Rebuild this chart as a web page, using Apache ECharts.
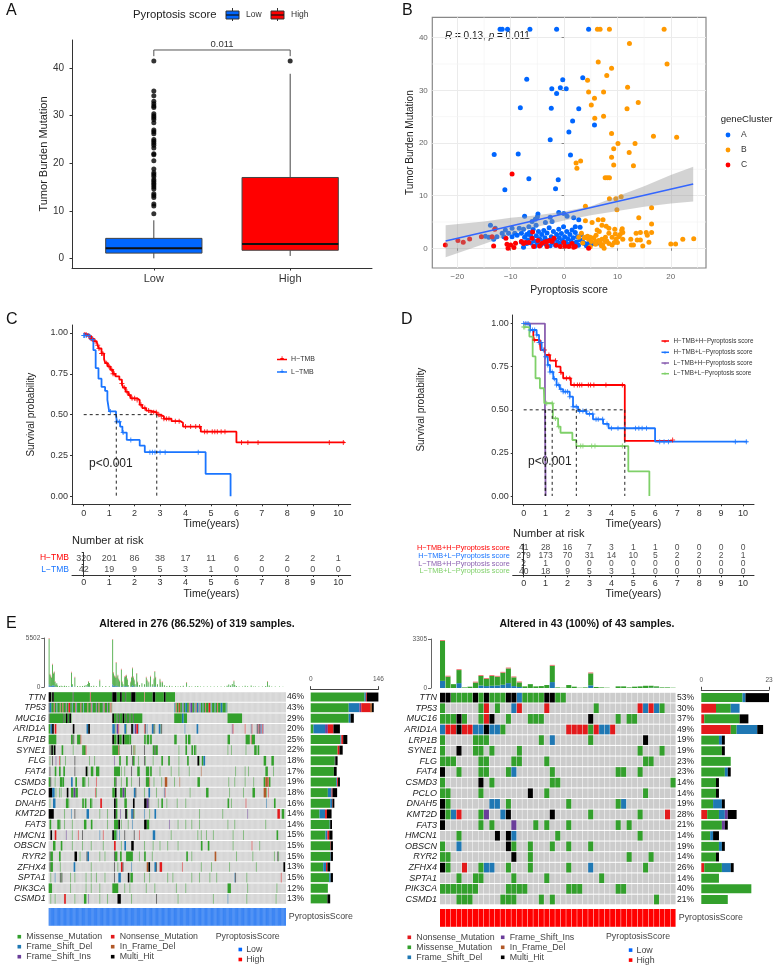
<!DOCTYPE html>
<html>
<head>
<meta charset="utf-8">
<title>Pyroptosis score and TMB</title>
<script src="https://cdn.jsdelivr.net/npm/echarts@6/dist/echarts.min.js"></script>
<style>
  html, body { margin: 0; padding: 0; background: #fff; }
  #chart { width: 776px; height: 969px; }
</style>
</head>
<body>
<div id="chart"></div>
<script>
// panel A
const boxCats = ['Low', 'High'];
const boxMin = [0, 0.5];
const boxQ1 = [1.1, 1.7];
const boxMed = [2.1, 3];
const boxQ3 = [4.2, 17];
const boxMax = [8, 38.8];
const lowOutliers = [41.5, 35.2, 34.2, 33, 32.5, 32, 31.7, 30.4, 30, 29.6, 29.2, 28.5, 27, 26.6, 26.2, 25, 24.6, 24.2, 23.8, 23.2, 22, 21.8, 20.5, 18.8, 18, 17.6, 17.2, 16.6, 16.2, 15.8, 15.4, 15, 14.6, 13.6, 13.2, 12.8, 11.4, 11, 9.4];
const highOutliers = [41.5];

// panel B
const clusterA = [[-12, 41.6], [-11.6, 41.6], [-10.6, 41.6], [-6.4, 41.6], [-1.4, 41.6], [4.6, 41.6], [-7, 32.1], [-0.25, 32], [3.5, 32.4], [-2.3, 30.3], [-0.7, 30.5], [0.4, 30.3], [-1.4, 29.4], [-8.2, 26.7], [-2.4, 26.6], [2.75, 26.5], [1.6, 24.2], [5.7, 23.4], [0.9, 22.1], [-2.6, 20.6], [-13.1, 17.8], [-8.6, 17.9], [1.2, 17.7], [-6.6, 13.2], [-1.1, 13], [-11.1, 11.1], [-1.6, 11.3],
  [-7.4, 6.1], [-4.9, 6.5], [-5, 6], [-2.6, 5.9], [-1, 6.8], [-0.06, 6.6], [0.56, 6.1], [1.8, 5.8], [2.75, 5.4], [3, 4], [2.1, 4.1], [-2.25, 5.1], [-3.5, 4.9], [-5.4, 5.5], [-6, 5.1], [-5.25, 4.4], [-6.6, 4.1], [-7.6, 3.6], [-8.4, 3.8], [-13.8, 4.4], [-12.9, 3.8], [-14.75, 2.3], [-14.1, 2.1], [-12.6, 2.2], [-13.2, 1.7], [-11.6, 2.85], [-11, 3.5], [-9.75, 3.8], [-10.4, 2.85], [-9.25, 2.85], [-11.3, 2.2], [-9.75, 2.2], [-8.8, 2.5], [-8, 2.85], [-7.4, 2.1], [-6.3, 2.5],
  [-8, 1.2], [-7.6, 0.2], [-7, 0.9], [-7, 2.6], [-6.8, 1.6], [-6.5, 3], [-6.2, 1], [-6, 2], [-5.8, 3.6], [-5.6, 1.4], [-5.5, 0.4], [-5.2, 2.4], [-5, 1], [-4.8, 3.2], [-4.6, 1.8], [-4.4, 0.6], [-4.2, 2.6], [-4, 1.3], [-3.8, 3.4], [-3.6, 2], [-3.4, 0.8], [-3.2, 2.9], [-3, 1.5], [-2.8, 3.9], [-2.6, 0.5], [-2.4, 2.2], [-2.2, 1.1], [-2, 3.2], [-1.8, 1.7], [-1.6, 0.6], [-1.4, 2.6], [-1.2, 1.2], [-1, 3.6], [-0.9, 2], [-0.7, 0.8], [-0.5, 2.8], [-0.3, 1.5], [-0.1, 4.1], [0.1, 2.2], [0.3, 1.1], [0.5, 3.2], [0.7, 1.8], [0.9, 0.7], [1.1, 2.6], [1.3, 1.4], [1.5, 3.5], [1.7, 2], [1.9, 0.9], [2.1, 3], [2.3, 1.2], [2.5, 2.2], [2.7, 0.6], [3, 1.6], [3.2, 2.6], [3.5, 1.2], [3.8, 0.9], [4.2, 0.5], [4.5, 0.9], [5.2, 0.8], [6.4, 1]];
const clusterB = [[6.25, 41.6], [6.75, 41.6], [8.5, 41.6], [18.75, 41.6], [12.25, 38.9], [6.4, 35.4], [19.3, 35], [8.9, 34.2], [8, 32.8], [4.4, 31.9], [11.9, 30.6], [4.6, 29.7], [7.4, 29.7], [5.7, 28.5], [13.9, 27.7], [5.1, 27.2], [11.8, 26.5], [7.4, 25.1], [5.75, 24.7], [8.9, 21.8], [16.75, 21.3], [21.1, 21.1], [10.1, 19.9], [13.3, 19.9], [9.3, 18.9], [12.2, 18.2], [8.9, 17.3], [3.1, 16.6], [2.25, 16.2], [9.3, 15.8], [13, 15.7], [2.4, 15.2], [7.7, 13.4], [8.1, 13.4], [8.5, 13.4], [8.5, 9.4], [9.7, 9.4], [10.7, 9.8], [4, 8], [16.4, 7.7], [9.9, 7.3],
  [4, 5.25], [5.25, 4.9], [6.4, 5.4], [7.3, 5.4], [14, 5.8], [16.4, 4.6], [7.9, 4.2], [8.4, 3.8], [7.1, 4.4], [6.2, 3.5], [6.6, 3.2], [9.5, 3.6], [10.9, 3.7], [11, 3], [9.6, 2.7], [8.4, 2.85], [9, 2.1], [10.25, 2.2], [7.75, 2.1], [7.1, 1.7], [7.75, 1.3], [6.5, 1.5], [5.9, 1.3], [5.1, 1.3], [4.6, 1.7], [4, 2.1], [3.25, 2.85], [2.75, 2.1], [5.9, 0.76], [4.9, 0.3], [7.5, 0], [7.25, 0.63], [9, 0.63], [9.75, 1.7], [11, 1.7], [13.5, 2.85], [14.3, 3], [15.6, 2.5], [15.4, 3], [16.4, 3], [12.5, 1.7], [12.6, 0.63], [13, 0.63], [14.3, 1.6], [14.75, 0.44], [15.9, 1.14], [20, 0.8], [20.9, 0.8], [22.25, 1.7], [24.3, 1.8], [13.7, 1.6],
  [4.4, 2.3], [4.9, 2.1], [5.6, 2], [6, 2.5], [6.8, 1], [7, 0.5], [8, 1.4], [8.4, 0.9], [9.4, 1.1], [10, 1.1], [10.5, 2.6], [10.8, 3.4], [3.8, 2], [3.5, 1]];
const clusterC = [[-9.75, 14.1], [-22.25, 0.63], [-19.9, 1.46], [-18.9, 1.14], [-17.7, 1.77], [-15.5, 2.2], [-13.5, 2.2], [-13.2, 0.44], [-10.9, 1.9], [-10.7, 0.76], [-10, 0.63], [-10.5, 0], [-9.4, 0.13], [-9.1, 0.95], [-8, 1.27], [-7.25, 1.08], [-5.7, 0.32], [-6.6, 1.08], [-6, 1.9], [-4.9, 1.46], [-4.1, 0.95], [-3.2, 0.32], [-1.9, 1.9], [-3.2, 1.27], [-2.25, 1.27], [-0.7, 0.32], [-0.06, 1.08], [0.9, 0.32], [2.1, 0.32], [-7.6, 0.9], [-4.6, 0.45], [-3.6, 1.2], [-2.7, 1.5], [-1.5, 0.6], [0.2, 0.4], [1.5, 0.9], [1.8, 0.2], [4.6, 0], [-5.9, 3.1], [-13, 3.6]];
const fitX = [-22.2, 24.2];
const fitY = [1.4, 12.2];
const bandX = [-22.2, -15, -10, -5, 0, 5, 10, 15, 20, 24.2];
const bandUpper = [4.4, 5.1, 5.8, 6.3, 7, 8, 9.9, 11.8, 13.9, 15.5];
const bandLower = [-1.7, 0.8, 2.6, 4.1, 5.3, 6.3, 7.1, 7.9, 8.5, 8.9];

// panel C
const riskTicks = [0, 1, 2, 3, 4, 5, 6, 7, 8, 9, 10];
const hTmbTime = [0, 0.05, 0.1, 0.2, 0.3, 0.4, 0.5, 0.55, 0.6, 0.7, 0.8, 0.85, 0.95, 1.05, 1.15, 1.25, 1.4, 1.5, 1.55, 1.65, 1.75, 1.85, 2.1, 2.2, 2.3, 2.45, 2.6, 2.87, 3, 3.15, 3.45, 3.8, 3.9, 4.6, 6, 10.26];
const hTmbSurv = [1, 0.995, 0.99, 0.98, 0.965, 0.95, 0.94, 0.925, 0.905, 0.875, 0.84, 0.815, 0.795, 0.775, 0.75, 0.735, 0.715, 0.69, 0.665, 0.64, 0.62, 0.6, 0.59, 0.56, 0.54, 0.525, 0.514, 0.5, 0.49, 0.475, 0.46, 0.45, 0.427, 0.396, 0.33, 0.33];
const hTmbCensor = [0.1, 0.2, 0.3, 0.35, 0.45, 0.55, 0.6, 0.7, 0.75, 0.9, 1, 1.1, 1.15, 1.2, 1.5, 1.6, 1.7, 1.8, 1.9, 2, 2.1, 2.25, 2.4, 2.55, 2.65, 2.75, 2.85, 2.95, 3.05, 3.15, 3.25, 3.35, 3.6, 3.75, 4, 4.2, 4.4, 4.55, 4.75, 4.85, 5.05, 5.15, 5.25, 5.4, 5.55, 6.2, 6.45, 6.85, 9.65, 10.2];
const lTmbTime = [0, 0.25, 0.38, 0.47, 0.58, 0.7, 0.84, 0.93, 1, 1.27, 1.3, 1.43, 1.52, 1.69, 2.2, 2.4, 4.79, 5.77, 5.77];
const lTmbSurv = [0.985, 0.96, 0.895, 0.785, 0.72, 0.67, 0.645, 0.59, 0.52, 0.5, 0.457, 0.427, 0.39, 0.345, 0.31, 0.27, 0.137, 0.137, 0];
const lTmbCensor = [0, 0.03, 0.1, 0.2, 0.35, 1.05, 1.3, 1.4, 1.55, 1.85, 2.6, 2.7, 2.8, 3, 3.2, 4.5];
const mediansC = [1.28, 2.87];
const riskRowsC = ['H\u2212TMB', 'L\u2212TMB'];
const riskHTmb = [320, 201, 86, 38, 17, 11, 6, 2, 2, 2, 1];
const riskLTmb = [42, 19, 9, 5, 3, 1, 0, 0, 0, 0, 0];

// panel D
const hhTime = [0, 0.29, 0.44, 0.74, 0.77, 0.97, 1.2, 1.47, 1.68, 1.8, 2.15, 4.61, 6.79];
const hhSurv = [1, 0.963, 0.905, 0.89, 0.847, 0.818, 0.785, 0.75, 0.716, 0.683, 0.644, 0.32, 0.325];
const hhCensor = [0.5, 0.75, 0.95, 1.15, 1.45, 1.7, 1.95, 2.1, 2.3, 2.45, 2.55, 2.65, 2.95, 3.05, 3.2, 3.75, 4.5, 6.79];
const hlTime = [0, 0.29, 0.59, 0.7, 0.82, 0.97, 1.1, 1.2, 1.35, 1.5, 1.65, 1.8, 2.1, 2.25, 2.48, 2.86, 3.16, 3.62, 3.87, 5.99, 10.2];
const hlSurv = [1, 0.963, 0.934, 0.89, 0.847, 0.808, 0.76, 0.72, 0.68, 0.644, 0.62, 0.605, 0.576, 0.518, 0.493, 0.476, 0.445, 0.418, 0.393, 0.315, 0.315];
const hlCensor = [0, 0.1, 0.2, 0.3, 0.4, 0.5, 0.6, 0.7, 0.8, 0.9, 1, 1.1, 1.2, 1.3, 1.4, 1.5, 1.6, 1.7, 1.8, 1.9, 2, 2.1, 2.25, 2.4, 2.55, 2.7, 2.85, 3, 3.15, 3.3, 3.4, 3.6, 3.8, 4, 4.3, 4.6, 5.1, 5.25, 5.4, 5.6, 6.2, 6.4, 6.6, 9.65, 10.15];
const lhTime = [0, 0.97, 0.97, 1, 1];
const lhSurv = [1, 1, 0.5, 0.5, 0];
const llTime = [0, 0.26, 0.41, 0.54, 0.74, 0.92, 0.94, 1.33, 1.57, 1.68, 2.22, 2.4, 4.77, 5.73, 5.73];
const llSurv = [0.98, 0.925, 0.81, 0.683, 0.625, 0.62, 0.538, 0.45, 0.402, 0.367, 0.325, 0.29, 0.143, 0.143, 0];
const llCensor = [0, 0.05, 1.05, 1.3, 1.45, 1.6, 2.6, 2.7, 3.1, 3.25, 4.5];
const mediansD = [0.98, 1, 1.3, 2.4, 4.61];
const riskRowsD = ['H\u2212TMB+H\u2212Pyroptosis score', 'H\u2212TMB+L\u2212Pyroptosis score', 'L\u2212TMB+H\u2212Pyroptosis score', 'L\u2212TMB+L\u2212Pyroptosis score'];
const riskHH = [41, 28, 16, 7, 3, 1, 1, 0, 0, 0, 0];
const riskHL = [279, 173, 70, 31, 14, 10, 5, 2, 2, 2, 1];
const riskLH = [2, 1, 0, 0, 0, 0, 0, 0, 0, 0, 0];
const riskLL = [40, 18, 9, 5, 3, 1, 0, 0, 0, 0, 0];

// panel E, both oncoplots share the gene order
const genes = ['TTN', 'TP53', 'MUC16', 'ARID1A', 'LRP1B', 'SYNE1', 'FLG', 'FAT4', 'CSMD3', 'PCLO', 'DNAH5', 'KMT2D', 'FAT3', 'HMCN1', 'OBSCN', 'RYR2', 'ZFHX4', 'SPTA1', 'PIK3CA', 'CSMD1'];
const pctLeft = ['46%', '43%', '29%', '20%', '25%', '22%', '18%', '17%', '19%', '18%', '16%', '14%', '14%', '15%', '15%', '15%', '13%', '15%', '12%', '13%'];
const pctRight = ['53%', '30%', '37%', '49%', '19%', '19%', '23%', '23%', '14%', '14%', '19%', '28%', '21%', '14%', '19%', '14%', '26%', '14%', '40%', '21%'];

// bar counts per gene
const missLeft = [116, 82, 82, 6, 64, 58, 52, 50, 55, 37, 42, 19, 41, 32, 42, 42, 27, 40, 37, 36];
const fsDelLeft = [3, 23, 4, 25, 2, 0, 0, 0, 2, 8, 4, 12, 1, 4, 0, 1, 6, 3, 0, 0];
const fsInsLeft = [0, 4, 0, 6, 0, 0, 1, 0, 0, 0, 0, 0, 0, 0, 0, 0, 0, 0, 0, 0];
const nonsenseLeft = [2, 19, 0, 12, 4, 4, 0, 0, 2, 2, 1, 4, 0, 4, 1, 0, 3, 0, 0, 0];
const inFrameLeft = [0, 4, 0, 0, 0, 0, 0, 0, 0, 0, 0, 0, 0, 0, 0, 0, 0, 0, 0, 0];
const multiLeft = [25, 4, 7, 14, 9, 7, 5, 6, 4, 10, 4, 10, 4, 7, 5, 5, 6, 5, 0, 6];

const nonsenseRight = [0, 5, 1, 10, 0, 0, 0, 0, 0, 0, 0, 2, 0, 0, 0, 0, 1, 0, 0, 0];
const missRight = [14, 5, 12, 2, 6, 7, 10, 8, 5, 5, 4, 4, 7, 3, 6, 5, 6, 6, 17, 9];
const fsDelRight = [1, 3, 0, 7, 1, 0, 0, 1, 0, 0, 3, 2, 0, 1, 1, 0, 3, 0, 0, 0];
const fsInsRight = [0, 0, 0, 0, 0, 0, 0, 0, 0, 0, 0, 1, 1, 0, 0, 0, 0, 0, 0, 0];
const multiRight = [8, 0, 3, 2, 1, 1, 0, 1, 1, 1, 1, 3, 1, 2, 1, 1, 1, 0, 0, 0];

// mutation burden per sample: column, missense, frame shift
const burdenLeft = [[0, 5100, 300], [1, 1300, 100], [2, 1100, 120], [3, 900, 100], [4, 2300, 200], [5, 1300, 200], [6, 1500, 150], [7, 500, 50], [8, 250, 30], [9, 400, 20], [10, 150, 10], [12, 90, 10], [14, 120, 10], [16, 80, 10], [18, 130, 10], [20, 90, 10], [23, 70, 10], [26, 1500, 100], [27, 300, 20], [30, 1000, 50], [33, 110, 10], [36, 100, 10], [39, 90, 10], [41, 140, 10], [43, 200, 20], [45, 300, 50], [46, 520, 60], [47, 400, 40], [49, 100, 10], [52, 120, 10], [55, 70, 10], [59, 700, 40], [62, 70, 10], [66, 100, 10], [70, 80, 10], [74, 5000, 300], [75, 1400, 150], [76, 1100, 100], [77, 1000, 80], [78, 2500, 200], [79, 1000, 80], [80, 1200, 80], [81, 800, 60], [82, 600, 40], [84, 1800, 150], [85, 500, 30], [86, 300, 20], [88, 1000, 100], [89, 1100, 80], [90, 1200, 80], [91, 800, 50], [92, 200, 20], [95, 500, 30], [96, 1000, 60], [97, 1900, 200], [98, 1000, 80], [99, 700, 50], [100, 300, 20], [102, 1400, 80], [103, 500, 30], [105, 200, 20], [108, 400, 20], [111, 300, 20], [113, 1000, 50], [114, 700, 40], [116, 500, 30], [118, 1100, 60], [120, 300, 20], [122, 800, 50], [123, 1600, 100], [124, 1000, 60], [126, 300, 20], [129, 800, 40], [130, 500, 30], [132, 500, 30], [134, 200, 10], [137, 100, 10], [140, 120, 10], [143, 80, 10], [147, 80, 10], [150, 60, 10], [153, 70, 10], [156, 120, 10], [160, 450, 20], [163, 80, 10], [166, 60, 10], [170, 70, 10], [173, 90, 10], [176, 50, 10], [180, 60, 10], [184, 40, 10], [188, 60, 10], [192, 50, 10], [196, 40, 10], [200, 40, 10], [204, 60, 10], [207, 120, 10], [209, 250, 20], [211, 150, 10], [213, 300, 30], [215, 600, 40], [216, 200, 20], [218, 100, 10], [221, 50, 10], [225, 40, 10], [228, 120, 10], [231, 70, 10], [235, 150, 10], [238, 60, 10], [240, 50, 10], [244, 60, 10], [248, 50, 10], [252, 100, 10], [254, 550, 30], [256, 150, 10], [259, 60, 10], [263, 50, 10], [268, 40, 10], [272, 30, 10]];
const burdenRight = [[0, 2700, 480], [1, 770, 0], [2, 260, 0], [3, 880, 330], [4, 40, 0], [5, 90, 0], [6, 370, 0], [7, 640, 170], [8, 480, 130], [9, 660, 150], [10, 590, 170], [11, 810, 220], [12, 990, 330], [13, 590, 130], [14, 310, 70], [15, 110, 0], [16, 260, 0], [17, 110, 0], [18, 130, 0], [19, 200, 0], [20, 1100, 400], [21, 40, 0], [22, 20, 0], [23, 200, 0], [24, 90, 0], [25, 20, 0], [26, 40, 0], [27, 810, 180], [28, 70, 0], [29, 40, 0], [30, 20, 0], [32, 110, 0], [33, 110, 0], [34, 40, 0], [35, 90, 0], [36, 110, 0], [37, 150, 0], [38, 130, 20], [39, 90, 20], [40, 40, 0], [41, 40, 0], [42, 20, 0]];

// altered samples, tokens are <column><type><run length>
const oncoLeft = [
  '0K3 3G1 4K2 6G22 28K1 29G19 48R1 49G25 74K5 79G4 83K2 85G4 89K1 90G6 96K5 101G10 111N1 112G9 121K3 124G10 134K2 136G11',
  '0K1 1B2 3G3 6R1 7G2 9B1 10G3 13N1 14G2 16R1 17G3 20P1 21G2 23R2 25G2 27B1 28G3 31R1 32B1 33G4 37R1 38G2 40B1 41G4 45N1 46G3 49R1 50B1 51G4 55P1 56G2 58R1 59G4 63B1 64R1 65G3 68P1 69G2 71N1 72R1 73G1 146B1 147G1 148R1 149G2 151N2 153G2 155B1 156P1 157G2 159B2 161G2 163R1 164B1 165P2 167G2 169B1 170G1 171R1 172B2 174G1 175P1 176B1 177G2 179B1 180G2 182R1 183G3 186R2 188G1 189B1 190G3 193B1 194G2 196R1 197G3 200B2 202G4 206B1 207G1',
  '0K1 1G16 17K1 18G2 20K2 22G2 24K2 26G1 74K2 76G3 79K1 80G2 82K1 83G3 86K2 88G2 90K1 91G3 94K1 95G3 98K1 99G10 146G9 155B2 157G4 208G17',
  '0G2 2B2 4K2 7R2 28K2 44B2 46K2 74B3 77G1 79P2 81R1 88B2 90G1 96K2 98B1 100P2 102R2 104B1 111R1 112K1 114B1 120B2 122K1 123G1 128B2 130G1 131K1 158B1 172B2 213P1 214R1 228R1 235B1 236R1 242K1 243P1 244R1 245K1 246P1 247B1 248R1 249P1',
  '0G9 26G2 28K1 29G1 33G4 37R1 74K2 76G3 80K2 82G3 86K2 88G6 94G2 111G2 114G3 118G2 146G3 159G2 162G3 208G3 229G5 235R1 236G4',
  '1K1 2G1 3K2 5G1 6K2 15G2 28G1 39G2 41G2 43R1 74G7 81R1 82G1 96K1 98G1 99N1 100G1 111K1 121G2 123K1 124G3 151G1 159G2 166G2 169G2 171G1 208G1 212G1 229G1 239G3 243G2',
  '1G1 4K1 8P1 12R1 13G1 19G1 30K1 47G1 53G1 76P1 82G2 90G2 97K1 98G2 104G1 111K1 112G1 121G1 131G2 139G2 151G1 161G2 173K2 175G1 178G2 180B2 250G3 259G3',
  '1K1 7G2 12G2 17G2 30K1 43K2 45G1 49G3 55G4 76G7 84G1 88G1 96K1 103G3 113G4 118G2 129G1 142G1 151G1 163G1 177N1 217G1 228G1 232G1 252G3 261G1',
  '0G2 2K1 7G1 13G3 16G2 26B2 31G2 39G3 42G1 46G1 55R1 76G2 78K1 84G1 90G2 96G1 105K1 113G4 117N1 122G1 131G1 135N3 146G1 152N1 173G3 209G1 216G1 228G1 238G1 250G2 252N3 255R1 256G2',
  '0K4 4B3 8G1 12G1 14G1 21K2 26G3 29P2 31G3 54R1 55G1 74G3 77K2 83G3 86P2 88G2 99B2 101K1 111G1 116B2 125G1 134B1 135R1 164G1 183G3 210G1 226G1 237G3 250N3 253G1 255R1',
  '1G1 5B3 20G3 23G1 39G2 42G2 48G2 50G1 60R2 76K2 78G2 88G3 98K2 111K3 114P2 116K1 127G1 131G2 137G1 149G1 159G1 208G2 212G1 229R1 253B1 262G2',
  '0K6 18G1 26B1 30K1 44B3 59G1 68G1 76K2 78G2 83P1 89K2 91G1 96B2 98K1 99G1 111B1 117G1 123B2 175G1 202G1 231P1 266R3 271G3',
  '1G2 10G3 13G1 18G1 27G1 41G3 49G2 68G1 76G5 81K2 84G1 92G1 97B1 111K3 114G3 140P1 150G1 159G1 166G1 175G1 208G1 216G1 252G1',
  '2K2 7R2 20P1 27G1 34R1 39K1 59B1 63R1 74K2 76G3 79B1 82B1 88K1 99K1 105R1 121B3 142G1 173G1 177G1 183G1 191G1 214G1 226G1 265G2',
  '5G3 14G2 27G1 39G1 49G1 63G1 76R2 84G1 88B2 96K3 111G1 121G1 129G1 138G1 150G1 177G2 185G2 214G1 236R1 245G1',
  '1K1 2G3 12G2 30K3 36G1 44K1 45B2 59G1 65G1 76K1 77G3 83G2 90G8 105G1 111G2 120G1 160G2 166G1 193N2 218G1 237G1 262G1 266K1 267G1',
  '1K1 2G3 13G1 29B2 49G1 76K1 80G1 84R2 86K1 96B1 114N2 116K2 123B2 125K1 129R3 155R1 177G1 189G1 210G1 241G1 273K2',
  '2G1 7B1 13K1 14G1 15K1 25G1 30G1 43G1 49G1 55G1 65G1 76K1 81B3 92K2 95G3 111G1 117G1 138G1 144G1 166G1 175G1 187G1 195G1 216B1 217K1 230G1 270R1',
  '0G4 25G1 43G1 49G1 59G1 74G7 88G1 94G1 113G1 123G1 148G1 159G1 208G4 231G1 265G1',
  '2G1 7G1 18R2 30G1 41G3 46P1 59G1 68G1 80K4 96G1 125K1 150G1 191G1 208B1 230G1 264G1'
];
const oncoRight = [
  'KKGGGGKGKGGGKKBGGGGKKGG....................',
  'G......GR.G..BR....R........G.......RBRBG..',
  'GGGKG..GRK..G...GGG........K....G.GG.......',
  'BRRKRRBBKBBG...........RRRRGRBBR...........',
  'G.....GGG.........G.B......G.........K.....',
  'G..K..GG.G....G.....................G...G..',
  'GGG....GG....GG....G.................GG....',
  'K..G...GG...GB......G...........GG..G......',
  'G......K.G..........GG....................G',
  'GG.....G........K..G.................G.....',
  'KG.......BB.G..........G........GB.........',
  'KGBR...GP..BK.......K......G........G....R.',
  'K......G.G...P...G.G...G........G.G........',
  '...G......K.KB.......G..............G......',
  'G..B........KG..G...G..G...G...............',
  'GG...........K..G.................G...G....',
  'KG..R..GBB..G...G......G...B.........G.....',
  '...G..GG.....G.....G.........G.............',
  'GGGGGGG.....GGGG.......GGG......GG.........',
  '...GGG.....GGG....G.G..................G...'
];
const oncoColors = { G: '#33a02c', B: '#1f78b4', P: '#6a3d9a', R: '#e31a1c', N: '#b15928', K: '#000000' };
const legendLeft = [['Missense_Mutation', 'G'], ['Frame_Shift_Del', 'B'], ['Frame_Shift_Ins', 'P'], ['Nonsense_Mutation', 'R'], ['In_Frame_Del', 'N'], ['Multi_Hit', 'K']];
const legendRight = [['Nonsense_Mutation', 'R'], ['Missense_Mutation', 'G'], ['Frame_Shift_Del', 'B'], ['Frame_Shift_Ins', 'P'], ['In_Frame_Del', 'N'], ['Multi_Hit', 'K']];

const FONT = '"Liberation Sans", Arial, sans-serif';
const BLUE = '#0066ff';
const KM_BLUE = '#1a75ff';
const RED = '#ff0000';
const ORANGE = '#ff9900';
const PURPLE = '#8a5fb0';
const GREEN = '#7fd069';
const PLUS = 'path://M4 0h2v4h4v2h-4v4h-2v-4h-4v-2h4z';

let grids = [], xAxes = [], yAxes = [], series = [], g = [];

let addGrid = (left, top, width, height, extra) => {
  grids.push(Object.assign({ left: left, top: top, width: width, height: height }, extra || {}));
  return grids.length - 1;
};

let valueAxis = (grid, min, max, ticks, opt) => {
  opt = opt || {};
  return Object.assign({
    type: 'value', gridIndex: grid, min: min, max: max,
    axisLine: { show: true, onZero: false, lineStyle: { color: opt.lineColor || '#333', width: opt.lineWidth || 1 } },
    axisTick: { show: true, length: opt.tick || 2.5, customValues: ticks, lineStyle: { color: opt.lineColor || '#333' } },
    axisLabel: { show: true, customValues: ticks, formatter: String, fontFamily: FONT, fontSize: opt.fontSize || 9, color: opt.color || '#333', margin: opt.margin || 4 },
    splitLine: { show: false }
  }, opt.axis || {});
};

let hidden = (grid, min, max) => ({
  type: 'value', gridIndex: grid, min: min, max: max,
  axisLine: { show: false }, axisTick: { show: false }, axisLabel: { show: false }, splitLine: { show: false }
});

let name = (label, gap, size) => ({
  name: label, nameLocation: 'middle', nameGap: gap,
  nameTextStyle: { fontFamily: FONT, fontSize: size || 10.5, color: '#222' }
});

let text = (s, x, y, size, opt) => {
  opt = opt || {};
  g.push({
    type: 'text', x: x, y: y, silent: true,
    style: {
      text: s, fontFamily: FONT, fontSize: size, fill: opt.fill || '#222',
      fontWeight: opt.weight || 'normal', fontStyle: opt.style || 'normal',
      align: opt.align || 'left', verticalAlign: 'middle', rich: opt.rich
    }
  });
};
let rect = (x, y, w, h, fill, stroke) => {
  g.push({ type: 'rect', silent: true, shape: { x: x, y: y, width: w, height: h }, style: { fill: fill, stroke: stroke || null, lineWidth: 1 } });
};
let hline = (x1, y1, x2, y2, color, width) => {
  g.push({ type: 'line', silent: true, shape: { x1: x1, y1: y1, x2: x2, y2: y2 }, style: { stroke: color, lineWidth: width || 1 } });
};

let zip = (a, b) => a.map((v, i) => [v, b[i]]);

// the value of a step curve at a given time, for the censor marks
let survAt = (time, surv, t) => {
  let s = surv[0];
  for (let i = 0; i < time.length; i++) {
    if (time[i] <= t) s = surv[i];
  }
  return s;
};

let kmSeries = (grid, time, surv, censor, color) => {
  series.push({
    type: 'line', xAxisIndex: grid, yAxisIndex: grid, step: 'end', symbol: 'none', z: 3,
    lineStyle: { color: color, width: 1.8 }, data: zip(time, surv)
  });
  if (censor) {
    series.push({
      type: 'scatter', xAxisIndex: grid, yAxisIndex: grid, symbol: PLUS, symbolSize: 5, z: 3,
      itemStyle: { color: color }, data: censor.map(t => [t, survAt(time, surv, t)])
    });
  }
};

let dashed = (grid, a, b) => {
  series.push({
    type: 'line', xAxisIndex: grid, yAxisIndex: grid, symbol: 'none', z: 4,
    lineStyle: { color: '#222', width: 1, type: [3, 3] }, data: [a, b]
  });
};

// ---------- A ----------
let a = addGrid(72, 40, 300, 228);
xAxes.push(valueAxis(a, -0.6, 1.6, [0, 1], { fontSize: 11, margin: 5 }));
xAxes[a].axisLabel.formatter = v => boxCats[v];
yAxes.push(Object.assign(valueAxis(a, -2.03, 45.9, [0, 10, 20, 30, 40], { fontSize: 10, margin: 8 }), name('Tumor Burden Mutation', 18, 11)));
series.push({
  type: 'custom', xAxisIndex: a, yAxisIndex: a, z: 2,
  data: boxCats.map((c, i) => [i, boxMin[i], boxQ1[i], boxMed[i], boxQ3[i], boxMax[i]]),
  encode: { x: 0, y: [1, 2, 3, 4, 5] },
  renderItem: (params, api) => {
    let i = api.value(0);
    let L = api.coord([i - 0.353, api.value(2)]), R = api.coord([i + 0.353, api.value(4)]);
    let mL = api.coord([i - 0.353, api.value(3)]), mR = api.coord([i + 0.353, api.value(3)]);
    let lo = api.coord([i, api.value(1)]), q1 = api.coord([i, api.value(2)]);
    let q3 = api.coord([i, api.value(4)]), hi = api.coord([i, api.value(5)]);
    let stroke = { stroke: '#444', lineWidth: 1 };
    return {
      type: 'group', children: [
        { type: 'line', shape: { x1: lo[0], y1: lo[1], x2: q1[0], y2: q1[1] }, style: stroke },
        { type: 'line', shape: { x1: q3[0], y1: q3[1], x2: hi[0], y2: hi[1] }, style: stroke },
        { type: 'rect', shape: { x: L[0], y: R[1], width: R[0] - L[0], height: L[1] - R[1] }, style: { fill: i === 0 ? BLUE : RED, stroke: '#444', lineWidth: 1 } },
        { type: 'line', shape: { x1: mL[0], y1: mL[1], x2: mR[0], y2: mR[1] }, style: { stroke: '#111', lineWidth: 2 } }
      ]
    };
  }
});
series.push({
  type: 'scatter', xAxisIndex: a, yAxisIndex: a, symbolSize: 5, itemStyle: { color: '#000' },
  data: lowOutliers.map(v => [0, v]).concat(highOutliers.map(v => [1, v]))
});
series.push({
  type: 'line', xAxisIndex: a, yAxisIndex: a, symbol: 'none', lineStyle: { color: '#555', width: 1 },
  data: [[0, 42.5], [0, 43.8], [1, 43.8], [1, 42.5]]
});
text('0.011', 222, 44.5, 9.5, { align: 'center', fill: '#333' });
text('A', 6, 11, 16, { fill: '#111' });
text('Pyroptosis score', 133, 15, 11.3, { fill: '#222' });
[[232.5, BLUE, 'Low', 246], [277.5, RED, 'High', 291]].forEach(k => {
  hline(k[0], 8, k[0], 21, '#333');
  rect(k[0] - 6.5, 11, 13, 8, k[1], '#333');
  hline(k[0] - 6.5, 15, k[0] + 6.5, 15, '#111', 1.2);
  text(k[2], k[3], 15, 8.5, { fill: '#333' });
});

// ---------- B ----------
let b = addGrid(432.3, 17.3, 273.7, 250.7, { show: true, borderColor: '#888', borderWidth: 1.2, backgroundColor: '#fff' });
xAxes.push(Object.assign(valueAxis(b, -24.7, 26.6, [-20, -10, 0, 10, 20], { fontSize: 8, color: '#666', lineColor: '#888', margin: 5, axis: { axisLine: { show: false } } }), name('Pyroptosis score', 16.5, 10.5)));
xAxes[b].axisLabel.formatter = v => String(v).replace('-', '\u2212');
xAxes[b].splitLine = { show: true, lineStyle: { color: '#ebebeb', width: 1 } };
yAxes.push(Object.assign(valueAxis(b, -3.74, 43.87, [0, 10, 20, 30, 40], { fontSize: 8, color: '#666', lineColor: '#888', margin: 4.5, axis: { axisLine: { show: false } } }), name('Tumor Burden Mutation', 13, 10)));
yAxes[b].splitLine = { show: true, lineStyle: { color: '#ebebeb', width: 1 } };
let minorLines = (vals, vertical) => ({
  type: 'custom', xAxisIndex: b, yAxisIndex: b, z: 1, silent: true,
  data: vals.map(v => [v]),
  renderItem: (params, api) => {
    let v = api.value(0);
    let p1 = vertical ? api.coord([v, -3.74]) : api.coord([-24.7, v]);
    let p2 = vertical ? api.coord([v, 43.87]) : api.coord([26.6, v]);
    return { type: 'line', shape: { x1: p1[0], y1: p1[1], x2: p2[0], y2: p2[1] }, style: { stroke: '#f3f3f3', lineWidth: 0.7 } };
  }
});
series.push(minorLines([-15, -5, 5, 15, 25], true), minorLines([5, 15, 25, 35], false));
[[clusterA, BLUE], [clusterB, ORANGE], [clusterC, RED]].forEach(c => {
  series.push({ type: 'scatter', xAxisIndex: b, yAxisIndex: b, symbolSize: 5, itemStyle: { color: c[1], opacity: 1 }, data: c[0], z: 2 });
});
series.push({
  type: 'custom', xAxisIndex: b, yAxisIndex: b, z: 3, silent: true, data: [[0, 0]],
  renderItem: (params, api) => {
    let up = bandX.map((x, i) => api.coord([x, bandUpper[i]]));
    let lo = bandX.map((x, i) => api.coord([x, bandLower[i]])).reverse();
    return { type: 'polygon', shape: { points: up.concat(lo) }, style: { fill: 'rgba(150,150,150,0.42)' } };
  }
});
series.push({ type: 'line', xAxisIndex: b, yAxisIndex: b, symbol: 'none', z: 4, lineStyle: { color: '#3366ff', width: 1.5 }, data: zip(fitX, fitY) });
text('B', 402, 11, 16, { fill: '#111' });
text('{i|R} = 0.13, {i|p} = 0.011', 445, 36.7, 10, { rich: { i: { fontStyle: 'italic', fontFamily: FONT, fontSize: 10, fill: '#222' } } });
text('geneCluster', 720.7, 119, 9.6);
[['A', BLUE, 135], ['B', ORANGE, 150], ['C', RED, 165]].forEach(k => {
  g.push({ type: 'circle', silent: true, shape: { cx: 728, cy: k[2], r: 2.4 }, style: { fill: k[1] } });
  text(k[0], 741, k[2], 8.5, { fill: '#333' });
});

// ---------- C ----------
let c = addGrid(72, 325, 278.7, 179.3);
xAxes.push(Object.assign(valueAxis(c, -0.46, 10.49, riskTicks, { tick: 2, margin: 4.5 }), name('Time(years)', 13)));
yAxes.push(Object.assign(valueAxis(c, -0.049, 1.049, [0, 0.25, 0.5, 0.75, 1], { tick: 2 }), name('Survival probability', 36, 10)));
yAxes[c].axisLabel.formatter = v => v.toFixed(2);
kmSeries(c, hTmbTime, hTmbSurv, hTmbCensor, RED);
kmSeries(c, lTmbTime, lTmbSurv, lTmbCensor, KM_BLUE);
dashed(c, [0, 0.5], [mediansC[1], 0.5]);
mediansC.forEach(m => dashed(c, [m, 0.5], [m, 0]));
text('C', 6, 320, 16, { fill: '#111' });
text('p<0.001', 89, 464, 12, { fill: '#222' });
[[riskRowsC[0], RED, 359.5], [riskRowsC[1], KM_BLUE, 372]].forEach(k => {
  hline(277, k[2], 287, k[2], k[1], 1.5);
  text('+', 282, k[2], 7, { fill: k[1], align: 'center', weight: 'bold' });
  text(k[0], 291, k[2], 7, { fill: '#333' });
});

// ---------- D ----------
let d = addGrid(512.7, 315, 241.3, 189.3);
xAxes.push(Object.assign(valueAxis(d, -0.5, 10.5, riskTicks, { tick: 2, margin: 4.5 }), name('Time(years)', 13)));
yAxes.push(Object.assign(valueAxis(d, -0.048, 1.05, [0, 0.25, 0.5, 0.75, 1], { tick: 2 }), name('Survival probability', 86, 10)));
yAxes[d].axisLabel.formatter = v => v.toFixed(2);
kmSeries(d, hhTime, hhSurv, hhCensor, RED);
kmSeries(d, hlTime, hlSurv, hlCensor, KM_BLUE);
kmSeries(d, lhTime, lhSurv, null, PURPLE);
kmSeries(d, llTime, llSurv, llCensor, GREEN);
dashed(d, [0, 0.5], [mediansD[4], 0.5]);
mediansD.forEach(m => dashed(d, [m, 0.5], [m, 0]));
text('D', 401, 320, 16, { fill: '#111' });
text('p<0.001', 528, 462, 12, { fill: '#222' });
riskRowsD.forEach((row, i) => {
  let y = [341, 352.3, 363, 373.7][i], col = [RED, KM_BLUE, PURPLE, GREEN][i];
  hline(661.5, y, 669, y, col, 1.5);
  text('+', 665, y, 6, { fill: col, align: 'center', weight: 'bold' });
  text(row, 673.5, y, 6.3, { fill: '#333' });
});

// ---------- number at risk tables ----------
let riskAxis = (grid, min, max, rows, colors, fontSize, gap) => {
  xAxes.push(Object.assign(valueAxis(grid, min, max, riskTicks, { tick: 2, margin: 3.5 }), name('Time(years)', gap)));
  yAxes.push({
    type: 'category', gridIndex: grid, data: rows, inverse: true,
    axisLine: { show: true, lineStyle: { color: '#333' } }, axisTick: { show: true, length: 2, lineStyle: { color: '#333' } },
    axisLabel: { fontFamily: FONT, fontSize: fontSize, margin: 3, interval: 0, color: (v, i) => colors[i] }
  });
};
let riskRows = (grid, rows, values, fontSize) => {
  rows.forEach((row, r) => {
    series.push({
      type: 'scatter', xAxisIndex: grid, yAxisIndex: grid, symbolSize: 1,
      itemStyle: { color: 'transparent' },
      label: { show: true, position: 'inside', formatter: p => String(p.value[2]), fontFamily: FONT, fontSize: fontSize, color: '#222' },
      data: values[r].map((v, i) => [riskTicks[i], r, v])
    });
  });
};
let riskC = addGrid(72, 552.5, 278.7, 22.5);
riskAxis(riskC, -0.46, 10.49, riskRowsC, [RED, KM_BLUE], 8.5, 12);
riskRows(riskC, riskRowsC, [riskHTmb, riskLTmb], 9);
text('Number at risk', 72, 541, 11);

let riskD = addGrid(512.7, 544, 241.3, 31.3);
riskAxis(riskD, -0.5, 10.5, riskRowsD, [RED, KM_BLUE, PURPLE, GREEN], 7.3, 10);
riskRows(riskD, riskRowsD, [riskHH, riskHL, riskLH, riskLL], 8.5);
text('Number at risk', 513, 534, 11);

// ---------- E ----------
let parseRuns = row => row.split(' ').map(t => {
  let m = t.match(/^(\d+)([A-Z])(\d+)$/);
  return [Number(m[1]), Number(m[3]), m[2]];
});

let onco = (cfg) => {
  let unit = cfg.width / cfg.columns;

  // burden bars on top
  let top = addGrid(cfg.left, cfg.top, cfg.width, 49);
  let topX = xAxes.push(hidden(top, 0, cfg.columns)) - 1;
  let topY = yAxes.push(valueAxis(top, 0, cfg.maxBurden, [0, cfg.maxBurden], {
    fontSize: 6.5, color: '#555', lineColor: '#666', tick: 3, margin: 4,
    axis: { offset: cfg.topOffset }
  })) - 1;
  series.push({
    type: 'custom', xAxisIndex: topX, yAxisIndex: topY, data: cfg.burden, encode: { x: 0, y: [1, 2] },
    renderItem: (params, api) => {
      let col = api.value(0), miss = api.value(1), fs = api.value(2);
      let w = unit * cfg.gap;
      let base = api.coord([col, 0]), p1 = api.coord([col, fs]), p2 = api.coord([col, fs + miss]);
      let peak = api.coord([col, fs + miss + cfg.maxBurden * 0.018]);
      return {
        type: 'group', children: [
          { type: 'rect', shape: { x: base[0], y: p1[1], width: w, height: base[1] - p1[1] }, style: { fill: oncoColors.B } },
          { type: 'rect', shape: { x: base[0], y: p2[1], width: w, height: p1[1] - p2[1] }, style: { fill: oncoColors.G } },
          { type: 'rect', shape: { x: base[0], y: peak[1], width: w, height: miss > cfg.maxBurden * 0.08 ? p2[1] - peak[1] : 0 }, style: { fill: '#ee6a6a' } }
        ]
      };
    }
  });

  // the matrix, gray cells first and then the altered samples
  let matrix = addGrid(cfg.left, cfg.matrixTop, cfg.width, 212.5);
  let matX = xAxes.push(hidden(matrix, 0, cfg.columns)) - 1;
  let matY = yAxes.push({
    type: 'category', gridIndex: matrix, data: genes, inverse: true,
    axisLine: { show: false }, axisTick: { show: false },
    axisLabel: { fontFamily: FONT, fontSize: 9, fontStyle: 'italic', color: '#222', margin: 3, interval: 0 }
  }) - 1;
  yAxes.push({
    type: 'category', gridIndex: matrix, data: cfg.pct, inverse: true, position: 'right',
    axisLine: { show: false }, axisTick: { show: false },
    axisLabel: { fontFamily: FONT, fontSize: 8.5, color: '#222', margin: 1, interval: 0 }
  });
  let gray = [];
  genes.forEach((gene, r) => {
    for (let i = 0; i < cfg.columns; i++) gray.push([i, r, 1]);
  });
  let cellRender = (api, fill, alpha) => {
    let pos = api.coord([api.value(0), api.value(1)]);
    let band = api.size([0, 1])[1];
    let len = api.value(2);
    return {
      type: 'rect',
      shape: { x: pos[0], y: pos[1] - band / 2 + 0.5, width: unit * (len - 1) + unit * cfg.gap, height: band - 1 },
      style: { fill: fill, opacity: len === 1 ? alpha : 1 }
    };
  };
  series.push({
    type: 'custom', xAxisIndex: matX, yAxisIndex: matY, silent: true, z: 1,
    data: gray, encode: { x: 0, y: 1 }, renderItem: (params, api) => cellRender(api, '#cccccc', 1)
  });
  Object.keys(oncoColors).forEach(code => {
    let cells = [];
    cfg.runs.forEach((runs, r) => runs.forEach(run => {
      if (run[2] === code) cells.push([run[0], r, run[1]]);
    }));
    series.push({
      type: 'custom', xAxisIndex: matX, yAxisIndex: matY, silent: true, z: 2,
      data: cells, encode: { x: 0, y: 1 },
      renderItem: (params, api) => cellRender(api, oncoColors[code], cfg.singleAlpha)
    });
  });

  // annotation strip
  let strip = addGrid(cfg.left, cfg.stripTop, cfg.width, 17.8);
  let stripX = xAxes.push(hidden(strip, 0, cfg.columns)) - 1;
  let stripY = yAxes.push(hidden(strip, 0, 1)) - 1;
  let stripCols = [];
  for (let i = 0; i < cfg.columns; i++) stripCols.push([i, 0]);
  series.push({
    type: 'custom', xAxisIndex: stripX, yAxisIndex: stripY, silent: true,
    data: stripCols, encode: { x: 0 },
    renderItem: (params, api) => {
      let p0 = api.coord([api.value(0), 0]), p1 = api.coord([api.value(0), 1]);
      return { type: 'rect', shape: { x: p0[0], y: p1[1], width: unit * cfg.gap, height: p0[1] - p1[1] }, style: { fill: cfg.stripColor } };
    }
  });

  // counts per gene on the right
  let bars = addGrid(cfg.barLeft, cfg.matrixTop, 67.7, 212.5);
  let barX = xAxes.push(valueAxis(bars, 0, cfg.maxCount, [0, cfg.maxCount], {
    fontSize: 6.5, color: '#555', lineColor: '#444', tick: 3, margin: 6,
    axis: { position: 'top', offset: 2.5 }
  })) - 1;
  let barY = yAxes.push({ type: 'category', gridIndex: bars, data: genes, inverse: true, axisLine: { show: false }, axisTick: { show: false }, axisLabel: { show: false } }) - 1;
  cfg.stacks.forEach(s => {
    series.push({
      type: 'bar', xAxisIndex: barX, yAxisIndex: barY, stack: cfg.key, barWidth: 9,
      itemStyle: { color: oncoColors[s[0]] }, data: s[1]
    });
  });

  text(cfg.title, cfg.titleX, 624.5, 10.5, { align: 'center', weight: 'bold', fill: '#111' });
  text('PyroptosisScore', cfg.left + cfg.width + 2.8, cfg.stripTop + 9, 8.8, { fill: '#444' });
  cfg.legend.forEach((item, i) => {
    let lx = i < 3 ? cfg.legendX[0] : cfg.legendX[1];
    let ly = cfg.legendY + (i % 3) * 10;
    rect(lx - 1.8, ly - 1.8, 3.6, 3.6, oncoColors[item[1]]);
    text(item[0], lx + 7, ly, 8.8, { fill: '#444' });
  });
  text('PyroptosisScore', cfg.legendX[2], cfg.legendY - 0.5, 8.8, { fill: '#444' });
  rect(cfg.legendX[2] + 22.8, cfg.legendY + 11, 3.6, 3.6, BLUE);
  text('Low', cfg.legendX[2] + 30.5, cfg.legendY + 12.8, 8.8, { fill: '#444' });
  rect(cfg.legendX[2] + 22.8, cfg.legendY + 21, 3.6, 3.6, RED);
  text('High', cfg.legendX[2] + 30.5, cfg.legendY + 22.8, 8.8, { fill: '#444' });
};

text('E', 6, 624, 16, { fill: '#111' });

onco({
  key: 'left', left: 48.7, top: 638, width: 237.3, matrixTop: 691.7, stripTop: 908,
  columns: 276, gap: 0.9, singleAlpha: 0.62, topOffset: 4.4, maxBurden: 5502, burden: burdenLeft, pct: pctLeft,
  runs: oncoLeft.map(parseRuns), stripColor: '#0a66f0',
  barLeft: 310.7, maxCount: 146,
  stacks: [['G', missLeft], ['B', fsDelLeft], ['P', fsInsLeft], ['R', nonsenseLeft], ['N', inFrameLeft], ['K', multiLeft]],
  title: 'Altered in 276 (86.52%) of 319 samples.', titleX: 197,
  legend: legendLeft, legendX: [19.3, 112.7, 215.7], legendY: 936.7
});
let rightRows = oncoRight.map(row => {
  let runs = [];
  row.split('').forEach((ch, i) => { if (ch !== '.') runs.push([i, 1, ch]); });
  return runs;
});
onco({
  key: 'right', left: 440, top: 639, width: 236, matrixTop: 692.3, stripTop: 909,
  columns: 43, gap: 0.92, singleAlpha: 1, topOffset: 9, maxBurden: 3305, burden: burdenRight, pct: pctRight,
  runs: rightRows, stripColor: '#ff0000',
  barLeft: 701.3, maxCount: 23,
  stacks: [['R', nonsenseRight], ['G', missRight], ['B', fsDelRight], ['P', fsInsRight], ['K', multiRight]],
  title: 'Altered in 43 (100%) of 43 samples.', titleX: 587,
  legend: legendRight, legendX: [409.3, 502.7, 606], legendY: 937.3
});

let chart = echarts.init(document.getElementById('chart'), null, { renderer: 'canvas' });
chart.setOption({
  animation: false,
  backgroundColor: '#fff',
  textStyle: { fontFamily: FONT },
  grid: grids,
  xAxis: xAxes,
  yAxis: yAxes,
  series: series,
  graphic: { elements: g }
});
</script>
</body>
</html>
